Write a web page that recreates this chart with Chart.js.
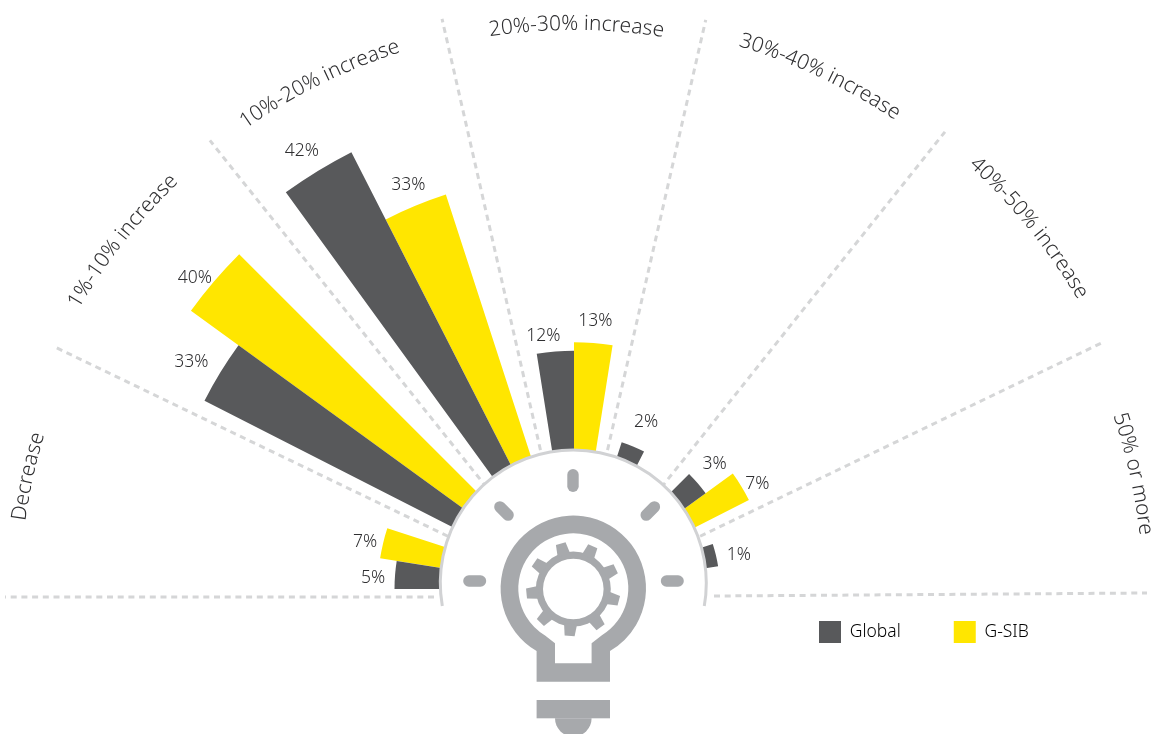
<!DOCTYPE html>
<html>
<head>
<meta charset="utf-8">
<style>
html,body{margin:0;padding:0;background:#fff;overflow:hidden;width:1151px;height:734px}
#wrap{position:relative;width:1151px;height:734px}
canvas,svg{position:absolute;left:0;top:0}
svg text{font-family:"Noto Sans",sans-serif;font-size:21px;font-weight:300;fill:#2f2f31}
</style>
<script src="https://cdn.jsdelivr.net/npm/chart.js@4"></script>
</head>
<body>
<div id="wrap">
<canvas id="c" width="1151" height="734"></canvas>
<svg id="s" width="1151" height="734" xmlns="http://www.w3.org/2000/svg"></svg>
</div>
<script>
const categories = ["Decrease","1%-10% increase","10%-20% increase","20%-30% increase","30%-40% increase","40%-50% increase","50% or more"];
const globalValues = [5,33,42,12,2,3,1];
const gsibValues = [7,40,33,13,null,7,null];
const seriesNames = ["Global","G-SIB"];
const seriesColors = ["#58595b","#ffe600"];

// layout
const CX = 574, CY = 589, BASE_R = 137.5, PX_PER_POINT = 8.4, OUTER_R = 500, SLOT_DEG = 9;
const SEP_CX = 574, SEP_CY = 597, SEP_R0 = 140, SEP_R1 = [569,575,584,593,592,595,588,573];
const TITLE_R = [554,573,572,567,575,585,569];
const TITLE_SHIFT = [-0.4,-0.3,-0.63,0.25,-0.43,-0.46,0.45];
const LABEL_OFF_G = [[-22,3],[-29,-10],[-16,-20],[-12,-15],[13,-24],[17,-19],[23,0]];
const LABEL_OFF_Y = [[-18,-1],[-19,-3.5],[-7,-21],[2,-22],null,[16,-2],null];
const rad = d => d*Math.PI/180;

const slots = categories.flatMap(c => [c+" Global", c+" G-SIB", c]);
const toSlots = (vals, pos) => vals.flatMap(v => [0,1,2].map(i => i===pos ? v : null));

const separators = {
  id:"separators",
  beforeDatasetsDraw(chart){
    const ctx = chart.ctx;
    ctx.save();
    ctx.strokeStyle="#d5d6d7"; ctx.lineWidth=3; ctx.setLineDash([6,4.7]);
    SEP_R1.forEach((r1,i)=>{
      const a = rad(i*180/7) , tilt = i===7 ? rad(-0.4) : 0;
      const c = Math.cos(a+tilt), s = Math.sin(a+tilt);
      ctx.beginPath();
      ctx.moveTo(SEP_CX-SEP_R0*c, SEP_CY-SEP_R0*s);
      ctx.lineTo(SEP_CX-r1*c, SEP_CY-r1*s);
      ctx.stroke();
    });
    ctx.restore();
  }
};

function drawBulb(ctx){
  const ink="#a7a9ac", x=573.3, y=588.3, dx=36.7, neckIn=18.3;
  ctx.save();
  // white hub and ring
  ctx.fillStyle="#fff";
  ctx.beginPath(); ctx.arc(573.3,583,133,0,Math.PI*2); ctx.fill();
  ctx.strokeStyle="#d1d2d4"; ctx.lineWidth=3;
  ctx.beginPath(); ctx.arc(573.3,583,133,rad(170),rad(370)); ctx.stroke();
  ctx.fillStyle=ink;
  // rays
  const ray=(cx,cy,ang)=>{
    ctx.save(); ctx.translate(cx,cy); ctx.rotate(rad(ang));
    ctx.beginPath(); ctx.roundRect(-11.5,-5.7,23,11.4,5.7); ctx.fill(); ctx.restore();
  };
  ray(573,480.5,90); ray(474.7,581,0); ray(672.3,581,0); ray(504,511,45); ray(650.3,511,-45);
  // bulb outline
  const oa=Math.asin(dx/72.7), ia=Math.asin(neckIn/55);
  ctx.beginPath();
  ctx.moveTo(x-dx,681.7);
  ctx.lineTo(x-dx,y+72.7*Math.cos(oa));
  ctx.arc(x,y,72.7,Math.PI/2+oa,Math.PI/2-oa+Math.PI*2);
  ctx.lineTo(x+dx,681.7);
  ctx.closePath();
  ctx.moveTo(x-neckIn,663.3);
  ctx.lineTo(x+neckIn,663.3);
  ctx.lineTo(x+neckIn,y+55*Math.cos(ia)+3);
  ctx.lineTo(x+neckIn+9,y+55*Math.cos(ia)-4);
  ctx.arc(x,y,55,Math.PI/2-ia-0.2,Math.PI/2+ia+0.2-Math.PI*2,true);
  ctx.lineTo(x-neckIn,y+55*Math.cos(ia)+3);
  ctx.closePath();
  ctx.fill("evenodd");
  // gear
  const gy=589;
  ctx.beginPath(); ctx.arc(x,gy,37.5,0,Math.PI*2); ctx.arc(x,gy,30.3,0,Math.PI*2,true); ctx.fill("evenodd");
  for(let k=0;k<9;k++){
    ctx.save(); ctx.translate(x,gy); ctx.rotate(rad(-105.5+40*k));
    ctx.beginPath(); ctx.moveTo(35,-6.5); ctx.lineTo(47,-5); ctx.lineTo(47,5); ctx.lineTo(35,6.5); ctx.closePath(); ctx.fill();
    ctx.restore();
  }
  // cap
  ctx.fillRect(x-dx,700,dx*2,18.3);
  ctx.beginPath(); ctx.arc(x,718.3,neckIn,0,Math.PI); ctx.fill();
  ctx.restore();
}

const overlays = {
  id:"overlays",
  afterDatasetsDraw(chart){
    const ctx=chart.ctx;
    drawBulb(ctx);
    ctx.save();
    ctx.font='300 17.5px "Noto Sans", sans-serif';
    ctx.fillStyle="#2f2f31"; ctx.textAlign="center"; ctx.textBaseline="middle";
    [[globalValues,LABEL_OFF_G,0],[gsibValues,LABEL_OFF_Y,1]].forEach(([vals,offs,pos])=>{
      const meta=chart.getDatasetMeta(pos);
      vals.forEach((v,i)=>{
        if(v===null) return;
        const el=meta.data[i*3+pos];
        const mid=(el.startAngle+el.endAngle)/2;
        const px=el.x+el.outerRadius*Math.cos(mid)+offs[i][0];
        const py=el.y+el.outerRadius*Math.sin(mid)+offs[i][1];
        ctx.fillText(v+"%",px,py);
      });
    });
    ctx.restore();
  }
};

const placeLegend = {
  id:"placeLegend",
  afterLayout(chart){
    const l=chart.legend, pad=l.options.labels.padding;
    l.left=819-pad; l.right=1151; l.top=621-pad; l.bottom=l.top+22+2*pad;
  }
};

new Chart(document.getElementById("c"),{
  type:"polarArea",
  data:{
    labels:slots,
    datasets:[
      {label:seriesNames[0],data:toSlots(globalValues,0),backgroundColor:seriesColors[0],borderWidth:0,angle:SLOT_DEG,clip:false},
      {label:seriesNames[1],data:toSlots(gsibValues,1),backgroundColor:seriesColors[1],borderWidth:0,angle:SLOT_DEG,clip:false}
    ]
  },
  options:{
    responsive:false,animation:false,events:[],
    layout:{padding:0},
    scales:{r:{
      startAngle:270,
      min:-BASE_R/PX_PER_POINT,
      max:(OUTER_R-BASE_R)/PX_PER_POINT,
      ticks:{display:false},
      grid:{display:false},
      angleLines:{display:false},
      pointLabels:{display:false},
      afterFit(s){ s.xCenter=CX; s.yCenter=CY; s.drawingArea=OUTER_R; }
    }},
    plugins:{
      tooltip:{enabled:false},
      legend:{
        display:true,position:"top",align:"start",
        labels:{
          boxWidth:22,boxHeight:22,padding:53,color:"#2f2f31",
          font:{family:'"Noto Sans", sans-serif',size:17.5,weight:"300"},
          generateLabels:()=>seriesNames.map((n,i)=>({text:n,fillStyle:seriesColors[i],strokeStyle:seriesColors[i],lineWidth:0,datasetIndex:i,hidden:false}))
        }
      }
    }
  },
  plugins:[separators,overlays,placeLegend]
});

// curved category titles
const svg=document.getElementById("s"), NS="http://www.w3.org/2000/svg";
categories.forEach((c,i)=>{
  const mid=(i+0.5)*180/7+TITLE_SHIFT[i], r=TITLE_R[i];
  const pt=a=>[(SEP_CX-r*Math.cos(rad(a))).toFixed(1),(SEP_CY-r*Math.sin(rad(a))).toFixed(1)];
  const p=document.createElementNS(NS,"path");
  const [a,b]=[pt(mid-40),pt(mid+40)];
  p.setAttribute("id","t"+i); p.setAttribute("fill","none");
  p.setAttribute("d",`M${a[0]} ${a[1]} A${r} ${r} 0 0 1 ${b[0]} ${b[1]}`);
  svg.appendChild(p);
  const t=document.createElementNS(NS,"text");
  t.setAttribute("text-anchor","middle");
  const tp=document.createElementNS(NS,"textPath");
  tp.setAttribute("href","#t"+i); tp.setAttribute("startOffset","50%");
  tp.textContent=c;
  t.appendChild(tp); svg.appendChild(t);
});
</script>
</body>
</html>
